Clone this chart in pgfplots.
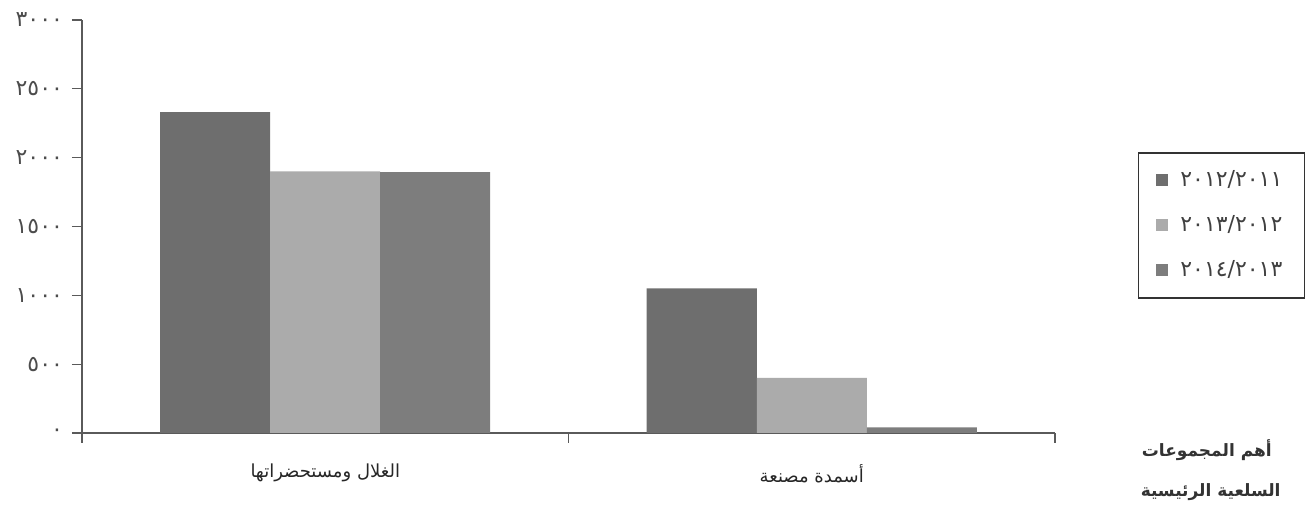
\documentclass[border=0pt]{standalone}
\usepackage{fontspec}
\usepackage{pgfplots}
\pgfplotsset{compat=1.18}
\setmainfont{DejaVu Sans}
\newfontfamily\arabicfont[Script=Arabic]{DejaVu Sans}
\TeXXeTstate=1
\definecolor{barA}{HTML}{6E6E6E}
\definecolor{barB}{HTML}{ABABAB}
\definecolor{barC}{HTML}{7D7D7D}
\definecolor{axc}{HTML}{5A5A5A}
\begin{document}
\begin{tikzpicture}
\path[use as bounding box] (-41pt,-37.5pt) rectangle (616pt,216.5pt);
\begin{axis}[
  scale only axis,
  width=486.5pt, height=206.5pt,
  xmin=-0.5, xmax=1.5, ymin=0, ymax=3000,
  axis x line=bottom, axis y line=left,
  axis line style={-, draw=axc, line width=0.6pt},
  ybar, bar width=55pt,
  xtick={-0.5,0.5,1.5},
  xticklabels={},
  extra x ticks={0,1},
  extra x tick labels={{\arabicfont\beginR الغلال ومستحضراتها\endR},{\arabicfont\beginR أسمدة مصنعة\endR}},
  extra x tick style={major tick length=0pt, xticklabel style={font=\arabicfont\fontsize{9}{11}\selectfont, yshift=-12pt, text=black!85}},
  ytick={0,500,1000,1500,2000,2500,3000},
  yticklabels={٠,٥٠٠,١٠٠٠,١٥٠٠,٢٠٠٠,٢٥٠٠,٣٠٠٠},
  yticklabel style={font=\arabicfont\fontsize{11}{13}\selectfont, xshift=-1pt, text=black!70},
  tick style={draw=axc, line width=0.6pt},
  major tick length=5pt, tick align=outside,
  legend style={at={(1.085,0.68)}, anchor=north west, draw=black!80, line width=0.7pt,
    font=\arabicfont\fontsize{11}{13}\selectfont, row sep=9pt, inner xsep=9pt, inner ysep=7pt, text=black!75},
  legend cell align=left,
  legend image code/.code={\fill[#1] (0pt,-3pt) rectangle (6pt,3pt);},
  clip=false,
]
\addplot[fill=barA, draw=none, bar shift=-55pt] coordinates {(0,2330) (1,1050)};
\addplot[fill=barB, draw=none, bar shift=0pt] coordinates {(0,1900) (1,400)};
\addplot[fill=barC, draw=none, bar shift=55pt] coordinates {(0,1895) (1,40)};
\legend{\hspace{4pt}٢٠١٢/٢٠١١,\hspace{4pt}٢٠١٣/٢٠١٢,\hspace{4pt}٢٠١٤/٢٠١٣}
\node[font=\arabicfont\bfseries\fontsize{8.5}{10}\selectfont, text=black!80] at (rel axis cs:1.156,-0.041) {\beginR أهم المجموعات\endR};
\node[font=\arabicfont\bfseries\fontsize{8.5}{10}\selectfont, text=black!80] at (rel axis cs:1.160,-0.143) {\beginR السلعية الرئيسية\endR};
\end{axis}
\end{tikzpicture}
\end{document}
